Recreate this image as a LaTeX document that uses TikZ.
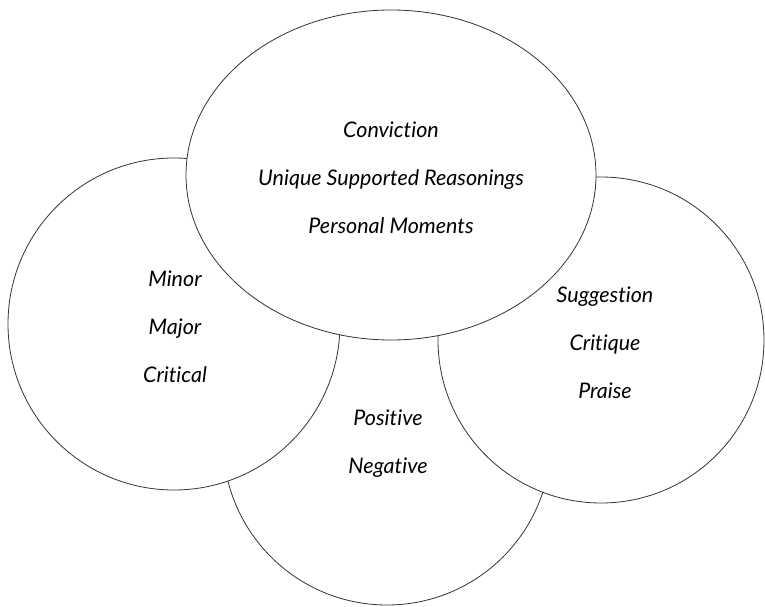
\documentclass[tikz,border=0pt]{standalone}
\usepackage{fontspec}
\setmainfont[Ligatures=NoCommon]{Lato}
\tikzset{
	bubble/.style={draw=black!80, fill=white, line width=0.8pt},
	words/.style={align=center, font=\itshape\fontsize{21.5}{48}\selectfont}
}
\begin{document}
\begin{tikzpicture}[x=1pt, y=1pt]
	\useasboundingbox (0,0) rectangle (765,606);
	\filldraw[bubble] (387,165) circle (164);
	\filldraw[bubble] (174,282) circle (166);
	\filldraw[bubble] (601,266) circle (163);
	\filldraw[bubble] (391,431) ellipse [x radius=205, y radius=165];
	\node[words] (core) at (391,428) {Conviction\\Unique Supported Reasonings\\Personal Moments};
	\node[words] (severity) at (175,279) {Minor\\Major\\Critical};
	\node[words] (feedback) at (605,263) {Suggestion\\Critique\\Praise};
	\node[words] (tone) at (388,162) {Positive\\Negative};
\end{tikzpicture}
\end{document}
